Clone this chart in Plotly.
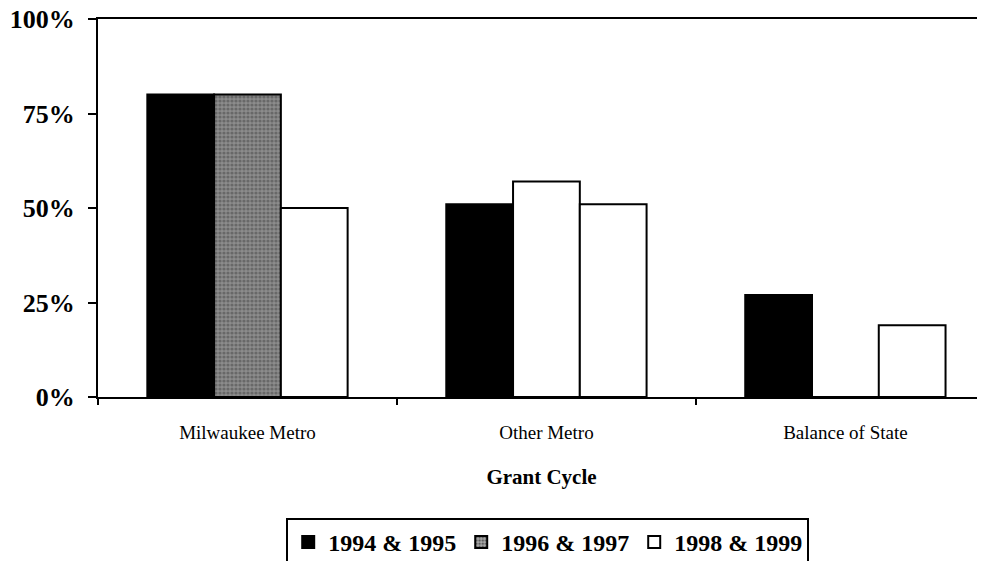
import plotly.graph_objects as go

categories = ["Milwaukee Metro", "Other Metro", "Balance of State"]
series_names = ["1994 & 1995", "1996 & 1997", "1998 & 1999"]
v_1994_95 = [80, 51, 27]
v_1996_97 = [80, 57, 0]
v_1998_99 = [50, 51, 19]
y_ticks = [0, 25, 50, 75, 100]
y_tick_labels = ["0%", "25%", "50%", "75%", "100%"]

FONT = "Liberation Serif"

fig = go.Figure()
fig.add_trace(go.Bar(
    x=categories, y=v_1994_95, name=series_names[0],
    marker=dict(color="black", line=dict(color="black", width=2)),
))
fig.add_trace(go.Bar(
    x=categories, y=v_1996_97, name=series_names[1],
    marker=dict(
        color=["#8c8c8c", "white", "white"],
        line=dict(color="black", width=2),
        pattern=dict(shape=[".", "", ""], fgcolor="#111111", bgcolor="#a8a8a8",
                     size=4, solidity=0.5, fillmode="overlay"),
    ),
))
fig.add_trace(go.Bar(
    x=categories, y=v_1998_99, name=series_names[2],
    marker=dict(color="white", line=dict(color="black", width=2)),
))

# the page body has an 8px margin, so the figure is sized to fit the 985x561 window
fig.update_layout(
    template="none",
    width=977, height=553,
    margin=dict(l=90, r=0, t=11, b=164, autoexpand=False),
    paper_bgcolor="white", plot_bgcolor="white",
    barmode="group", bargap=0.33, bargroupgap=0,
    font=dict(family=FONT, color="black"),
    showlegend=True,
    legend=dict(
        orientation="h", x=0.507, xanchor="center", y=-0.320, yanchor="top",
        bordercolor="black", borderwidth=2, bgcolor="white",
        font=dict(family=FONT, size=24, color="black", weight="bold"),
        itemwidth=30, tracegroupgap=0,
    ),
)
fig.update_xaxes(
    type="category", range=[-0.5, 2.467], automargin=False,
    showline=True, linecolor="black", linewidth=2, mirror=True,
    ticks="outside", tickson="boundaries", ticklen=6, tickwidth=2, tickcolor="black",
    tickfont=dict(family=FONT, size=19, color="black"),
    ticklabelstandoff=17,
    showgrid=False,
    title=dict(text="Grant Cycle", font=dict(family=FONT, size=21, color="black", weight="bold"),
               standoff=28),
)
fig.update_yaxes(
    range=[0, 100], tickvals=y_ticks, ticktext=y_tick_labels, automargin=False,
    showline=True, linecolor="black", linewidth=2,
    ticks="outside", ticklen=8, tickwidth=2, tickcolor="black",
    tickfont=dict(family=FONT, size=26, color="black", weight="bold"),
    ticklabelstandoff=8, ticklabeloverflow="allow",
    showgrid=False, zeroline=False,
)

fig.write_html("out.html")
